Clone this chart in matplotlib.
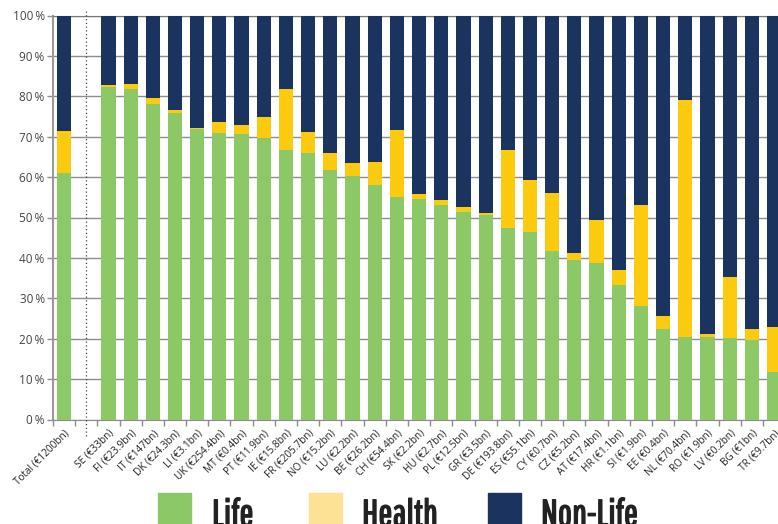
import matplotlib
matplotlib.use("Agg")
import matplotlib.pyplot as plt
from matplotlib.patches import Rectangle
import matplotlib.patheffects as pe
import numpy as np

categories = ["Total (€1200bn)", "", "SE (€33bn)", "FI (€23.9bn)", "IT (€147bn)", "DK (€24.3bn)",
              "LI (€3.1bn)", "UK (€254.4bn)", "MT (€0.4bn)", "PT (€11.9bn)", "IE (€15.8bn)",
              "FR (€205.7bn)", "NO (€15.2bn)", "LU (€2.2bn)", "BE (€26.2bn)", "CH (€54.4bn)",
              "SK (€2.2bn)", "HU (€2.7bn)", "PL (€12.5bn)", "GR (€3.5bn)", "DE (€193.8bn)",
              "ES (€55.1bn)", "CY (€0.7bn)", "CZ (€5.2bn)", "AT (€17.4bn)", "HR (€1.1bn)",
              "SI (€1.9bn)", "EE (€0.4bn)", "NL (€70.4bn)", "RO (€1.9bn)", "LV (€0.2bn)",
              "BG (€1bn)", "TR (€9.7bn)"]
life = [61.0, 0, 82.2, 81.7, 78.1, 75.9, 72.0, 70.9, 70.7, 69.8, 66.8, 65.9, 61.8, 60.3, 58.0, 55.1,
        54.5, 53.2, 51.3, 50.7, 47.5, 46.3, 41.7, 39.4, 38.7, 33.3, 28.0, 22.4, 20.4, 20.3, 20.2,
        19.8, 11.8]
health = [10.3, 0, 0.6, 1.4, 1.4, 0.6, 0.1, 2.7, 2.2, 5.1, 14.9, 5.3, 4.1, 3.1, 5.7, 16.5,
          1.3, 1.1, 1.2, 0.5, 19.1, 13.1, 14.4, 1.7, 10.8, 3.8, 25.2, 3.2, 58.6, 0.8, 15.0,
          2.7, 11.1]
nonlife = [100 - l - h if i != 1 else 0 for i, (l, h) in enumerate(zip(life, health))]
ytick_labels = ["0\u2009%", "10\u2009%", "20\u2009%", "30\u2009%", "40\u2009%", "50\u2009%",
                "60\u2009%", "70\u2009%", "80\u2009%", "90\u2009%", "100\u2009%"]
legend_labels = ["Life", "Health", "Non-Life"]

c_life = "#8CC866"
c_health = "#FCCB10"
c_nonlife = "#1B345F"
c_health_leg = "#FDE195"

fig = plt.figure(figsize=(7.78, 5.24), dpi=100)
ax = fig.add_axes([53/778, 1 - 419.5/524, 1 - 53/778, (419.5 - 15.5)/524])

x = np.arange(len(categories))
w = 0.64
ax.bar(x, life, w, color=c_life, zorder=3)
ax.bar(x, health, w, bottom=life, color=c_health, zorder=3)
ax.bar(x, nonlife, w, bottom=np.array(life) + np.array(health), color=c_nonlife, zorder=3)

ax.set_xlim(-0.5, 32.18)
ax.set_ylim(0, 100)
ax.set_yticks(np.arange(0, 101, 10))
ax.set_yticklabels(ytick_labels, fontsize=8.5, color="#444444",
                   family=["Open Sans", "DejaVu Sans"])
ax.yaxis.grid(True, color="#8c8c8c", linewidth=1.0, zorder=1)
ax.set_axisbelow(True)

ax.set_xticks(x)
ax.set_xticklabels(categories, rotation=45, ha="right", rotation_mode="anchor",
                   fontsize=7.2, color="#222222", family=["Open Sans", "DejaVu Sans"])
ax.set_xticks(np.arange(-0.5, 32.5, 1), minor=True)
ax.tick_params(axis="x", which="major", length=0, pad=6)
ax.tick_params(axis="x", which="minor", length=4, color="#8c8c8c", width=1)
ax.tick_params(axis="y", length=4, color="#8c8c8c", width=1, pad=2)

ax.spines["right"].set_visible(False)
ax.spines["top"].set_color("#777777")
ax.spines["left"].set_color("#9a9a9a")
ax.spines["left"].set_linewidth(1.5)
ax.spines["bottom"].set_color("#8c8c8c")

ax.plot([1, 1], [-4, 101.5], linestyle=(0, (1, 2)), color="#444444", linewidth=0.9,
        clip_on=False, zorder=4)

# legend
leg_cols = [c_life, c_health_leg, c_nonlife]
patch_x = [158, 309, 488]
text_x = [212, 362, 541]
for label, col, px, tx in zip(legend_labels, leg_cols, patch_x, text_x):
    fig.patches.append(Rectangle((px/778, 0), 33/778, (524 - 493)/524,
                                 transform=fig.transFigure, color=col))
    fig.text(tx/778, 1 - 526/524, label, fontsize=27, color="#222222",
             family=["Pathway Gothic One", "DejaVu Sans"], va="baseline", ha="left",
             path_effects=[pe.withStroke(linewidth=1.0, foreground="#222222")])

fig.savefig("out.png", dpi=100)
